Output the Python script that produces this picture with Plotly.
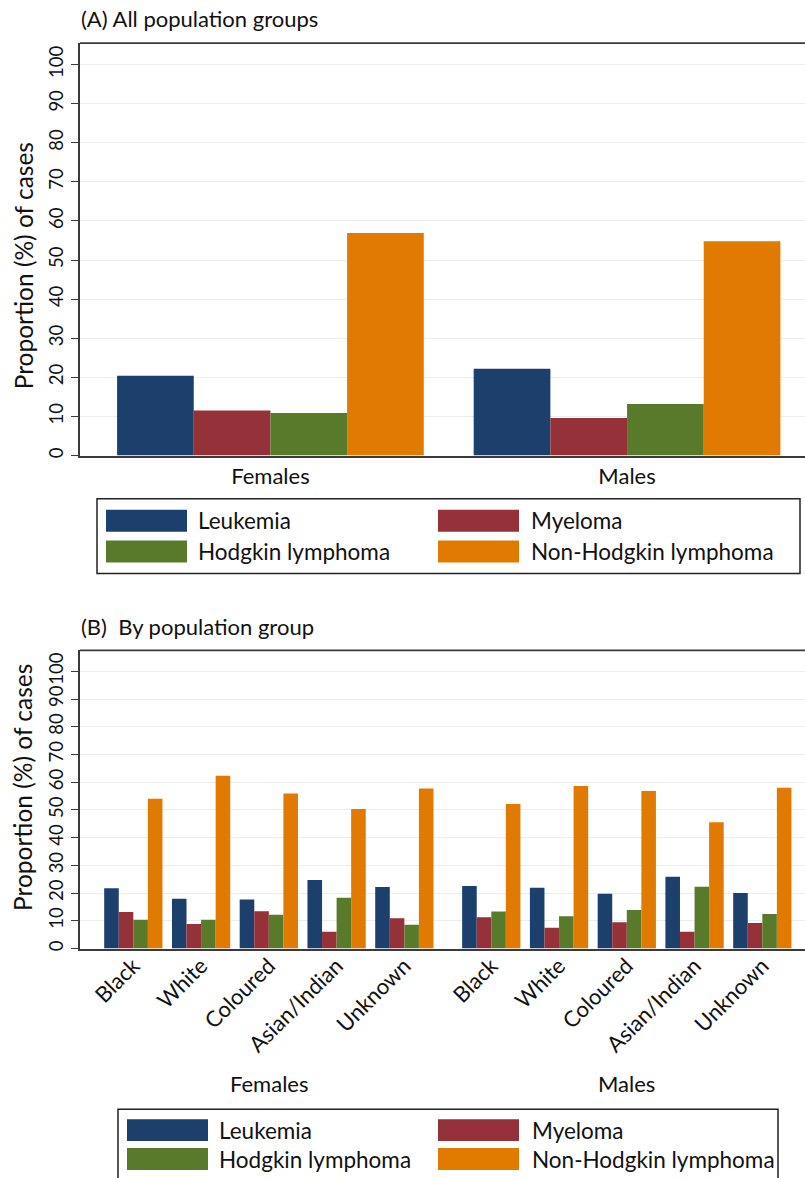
import plotly.graph_objects as go

W, H = 805, 1178

# Series shown in both panels
series = ["Leukemia", "Myeloma", "Hodgkin lymphoma", "Non-Hodgkin lymphoma"]
colors = ["#1d3f6b", "#953138", "#5a7a2b", "#e07a00"]

# Panel A: all population groups combined
sexes = ["Females", "Males"]
all_leukemia = [20.4, 22.2]
all_myeloma = [11.5, 9.6]
all_hodgkin = [10.9, 13.2]
all_nhl = [56.9, 54.8]

# Panel B: by population group (females first, then males)
groups = ["Black", "White", "Coloured", "Asian/Indian", "Unknown"]
female_leukemia = [21.8, 18.0, 17.7, 24.7, 22.2]
female_myeloma = [13.2, 8.9, 13.5, 6.1, 10.9]
female_hodgkin = [10.4, 10.4, 12.2, 18.3, 8.6]
female_nhl = [54.0, 62.3, 55.9, 50.3, 57.7]
male_leukemia = [22.6, 21.9, 19.8, 25.9, 20.0]
male_myeloma = [11.3, 7.5, 9.5, 6.1, 9.2]
male_hodgkin = [13.4, 11.7, 13.9, 22.3, 12.5]
male_nhl = [52.1, 58.6, 56.8, 45.6, 58.0]

yticks = list(range(0, 101, 10))

TXT_FONT = "Lato"
AXIS_COL = "#3a3a3a"


def px_x(p):
    return p / W


def px_y(p):
    return 1 - p / H


fig = go.Figure()

# ---- Panel A bars ----
xa = list(range(len(sexes)))
for name, col, vals in zip(series, colors, [all_leukemia, all_myeloma, all_hodgkin, all_nhl]):
    fig.add_trace(go.Bar(x=xa, y=vals, name=name, marker=dict(color=col, line=dict(width=0)),
                         xaxis="x", yaxis="y", showlegend=False))

# ---- Panel B bars ----
SEX_GAP = 0.283  # extra spacing between the female and male blocks
xb = [i for i in range(len(groups))] + [len(groups) + SEX_GAP + i for i in range(len(groups))]
panel_b = [female_leukemia + male_leukemia, female_myeloma + male_myeloma,
           female_hodgkin + male_hodgkin, female_nhl + male_nhl]
for name, col, vals in zip(series, colors, panel_b):
    fig.add_trace(go.Bar(x=xb, y=vals, name=name, marker=dict(color=col, line=dict(width=0)),
                         xaxis="x2", yaxis="y2", showlegend=False))

# Plot-area geometry (pixels)
A_LEFT, A_TOP, A_BOT = 80, 43.3, 456.7
B_LEFT, B_TOP, B_BOT = 80, 652, 951

yaxis_common = dict(
    tickmode="array", tickvals=yticks, ticktext=[str(t) for t in yticks],
    tickangle=-90, ticks="outside", ticklen=7, tickwidth=1.3, tickcolor=AXIS_COL,
    showline=True, linecolor=AXIS_COL, linewidth=1.5,
    showgrid=True, gridcolor="#ededed", gridwidth=1.3, zeroline=False,
    tickfont=dict(family=TXT_FONT, size=18.5, color="#111"),
    ticklabelstandoff=1,
)

fig.update_layout(
    width=W, height=H,
    margin=dict(l=0, r=0, t=0, b=0),
    paper_bgcolor="white", plot_bgcolor="white",
    barmode="group", bargap=0.14, bargroupgap=0,
    showlegend=False,
    xaxis=dict(domain=[px_x(A_LEFT), 1], range=[-0.534, 1.499], anchor="y",
               tickmode="array", tickvals=xa, ticktext=sexes, ticks="",
               showline=True, linecolor=AXIS_COL, linewidth=1.5, showgrid=False, zeroline=False,
               tickfont=dict(family=TXT_FONT, size=22, color="#111")),
    yaxis=dict(domain=[px_y(A_BOT), px_y(A_TOP)], range=[0, (A_BOT - A_TOP) / 3.92],
               anchor="x", **yaxis_common),
    xaxis2=dict(domain=[px_x(B_LEFT), 1], range=[-0.787, 9.913], anchor="y2",
                tickmode="array", tickvals=xb, ticktext=groups + groups, ticks="",
                tickangle=-45, ticklabelstandoff=-6,
                showline=True, linecolor=AXIS_COL, linewidth=1.5, showgrid=False, zeroline=False,
                tickfont=dict(family=TXT_FONT, size=22, color="#111")),
    yaxis2=dict(domain=[px_y(B_BOT), px_y(B_TOP)], range=[0, (B_BOT - B_TOP) / 2.78],
                anchor="x2", **yaxis_common),
)

shapes = []
annotations = []

# top frame lines of both plot regions
for left, top in [(A_LEFT, A_TOP), (B_LEFT, B_TOP)]:
    shapes.append(dict(type="line", xref="paper", yref="paper",
                       x0=px_x(left), x1=1, y0=px_y(top), y1=px_y(top),
                       line=dict(color=AXIS_COL, width=1.8)))

# panel titles
annotations.append(dict(text="(A) All population groups", xref="paper", yref="paper",
                        x=px_x(79), y=px_y(19), xanchor="left", yanchor="middle", showarrow=False,
                        font=dict(family=TXT_FONT, size=22, color="#111")))
annotations.append(dict(text="(B)  By population group", xref="paper", yref="paper",
                        x=px_x(79), y=px_y(628), xanchor="left", yanchor="middle", showarrow=False,
                        font=dict(family=TXT_FONT, size=22, color="#111")))

# y-axis titles
for cy in [267, 790]:
    annotations.append(dict(text="Proportion (%) of cases", xref="paper", yref="paper",
                            x=px_x(23), y=px_y(cy), xanchor="center", yanchor="middle",
                            textangle=-90, showarrow=False,
                            font=dict(family=TXT_FONT, size=24.5, color="#111")))

# sex labels under panel B
n = len(groups)
for label, pos in [("Females", (xb[0] + xb[n - 1]) / 2), ("Males", (xb[n] + xb[-1]) / 2)]:
    annotations.append(dict(text=label, xref="x2", yref="paper", x=pos, y=px_y(1086),
                            xanchor="center", yanchor="middle", showarrow=False,
                            font=dict(family=TXT_FONT, size=22, color="#111")))


def add_legend(box, sw_x, txt_x, row_y, sw_w=81, sw_h=22, size=22.5):
    x0, y0, x1, y1 = box
    shapes.append(dict(type="rect", xref="paper", yref="paper",
                       x0=px_x(x0), x1=px_x(x1), y0=px_y(y0), y1=px_y(y1),
                       line=dict(color="#222", width=1.5), fillcolor="rgba(0,0,0,0)"))
    for k, (name, col) in enumerate(zip(series, colors)):
        r, c = divmod(k, 2)
        cy = row_y[r]
        sx = sw_x[c]
        shapes.append(dict(type="rect", xref="paper", yref="paper",
                           x0=px_x(sx), x1=px_x(sx + sw_w),
                           y0=px_y(cy - sw_h / 2), y1=px_y(cy + sw_h / 2),
                           line=dict(width=0), fillcolor=col))
        annotations.append(dict(text=name, xref="paper", yref="paper",
                                x=px_x(txt_x[c]), y=px_y(cy), xanchor="left", yanchor="middle",
                                showarrow=False, font=dict(family=TXT_FONT, size=size, color="#111")))


add_legend((97, 500, 800, 575), (106, 438), (196, 529), (522, 553))
add_legend((118, 1112, 778, 1185), (127, 438), (217, 530), (1133, 1162))

fig.update_layout(shapes=shapes, annotations=annotations)
fig.write_html("out.html")
